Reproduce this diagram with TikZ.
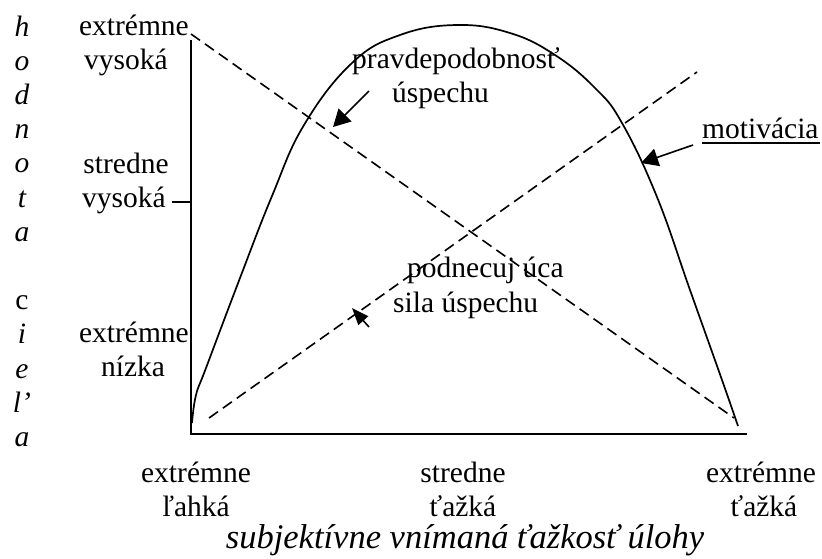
\documentclass[tikz,border=0pt]{standalone}
\usepackage{fontspec}
\setmainfont{Liberation Serif}
\usetikzlibrary{arrows.meta}
\begin{document}
\begin{tikzpicture}[x=1pt,y=-1pt,
  lbl/.style={inner sep=0pt,anchor=base,font=\fontsize{29.5}{34}\selectfont},
  axisline/.style={line width=2pt},
  curveline/.style={line width=1.7pt},
  dashline/.style={line width=1.6pt,dash pattern=on 11pt off 6pt},
  ptr/.style={line width=1.6pt,-{Triangle[length=17pt,width=18pt]}},
  ptrs/.style={line width=1.6pt,-{Triangle[length=17pt,width=13pt]}}]
\useasboundingbox (0,0) rectangle (822,558);
% axes
\coordinate (O) at (191,434);
\coordinate (Ytop) at (191,40);
\coordinate (Xend) at (747,434);
\coordinate (T1) at (172,202);
\coordinate (T2) at (191,202);
\draw[axisline] (Ytop) -- (O) -- (Xend);
\draw[line width=1.5pt] (T1) -- (T2);
% dashed lines
\coordinate (D1s) at (191,34);
\coordinate (D1e) at (734,418);
\coordinate (D2s) at (209,418);
\coordinate (D2e) at (697,72);
\draw[dashline] (D1s) -- (D1e);
\draw[dashline] (D2s) -- (D2e);
% motivation curve
\draw[curveline] plot[smooth,tension=0.7] coordinates {
 (192,423) (196,395) (206,368) (240,278) (272,196) (304,125)
 (352,63) (400,35) (457,25) (510,33) (555,55) (595,88)
 (622,123) (657,197) (690,290) (722,380) (738,426)};
% left column letters
\foreach \t/\k [count=\i] in {{\itshape h}/0,{\itshape o}/1,{\itshape d}/2,{\itshape n}/3,{\itshape o}/4,{\itshape t}/5,{\itshape a}/6,{c}/8,{\itshape i}/9,{\itshape e}/10,{\itshape l’}/11,{\itshape a}/12}
  \node[lbl] (v\i) at (22,{36+34.2*\k}) {\t};
% y labels
\node[lbl,anchor=base east] (yl1) at (189,35) {extrémne};
\node[lbl] (yl2) at (126,69) {vysoká};
\node[lbl] (yl3) at (126,173) {stredne};
\node[lbl] (yl4) at (124,207) {vysoká};
\node[lbl,anchor=base east] (yl5) at (189,342) {extrémne};
\node[lbl] (yl6) at (133,376) {nízka};
% x labels
\node[lbl] (xl1) at (196,482) {extrémne};
\node[lbl] (xl2) at (196,516) {ľahká};
\node[lbl] (xl3) at (463,482) {stredne};
\node[lbl] (xl4) at (463,516) {ťažká};
\node[lbl] (xl5) at (761,482) {extrémne};
\node[lbl] (xl6) at (764,516) {ťažká};
\node[lbl,font=\fontsize{34.5}{40}\selectfont\itshape] (xt) at (465,548) {subjektívne vnímaná ťažkosť úlohy};
% curve labels
\node[lbl,anchor=base west] (p1) at (352,68) {pravdepodobnosť};
\node[lbl,anchor=base west] (p2) at (392,102) {úspechu};
\node[lbl,anchor=base west] (m1) at (702,138) {motivácia};
\draw[line width=1.6pt] (m1.base west) ++(0,5) -- ++(118,0);
\node[lbl,anchor=base west] (s1) at (407,277) {podnecuj úca};
\node[lbl,anchor=base west] (s2) at (393,312) {sila úspechu};
% arrows
\coordinate (a1s) at (369,91);
\coordinate (a1e) at (333,127);
\coordinate (a2s) at (693,145);
\coordinate (a2e) at (641,163);
\coordinate (a3s) at (369,327);
\coordinate (a3e) at (352,308);
\draw[ptr] (a1s) -- (a1e);
\draw[ptr] (a2s) -- (a2e);
\draw[ptrs] (a3s) -- (a3e);
\end{tikzpicture}
\end{document}
